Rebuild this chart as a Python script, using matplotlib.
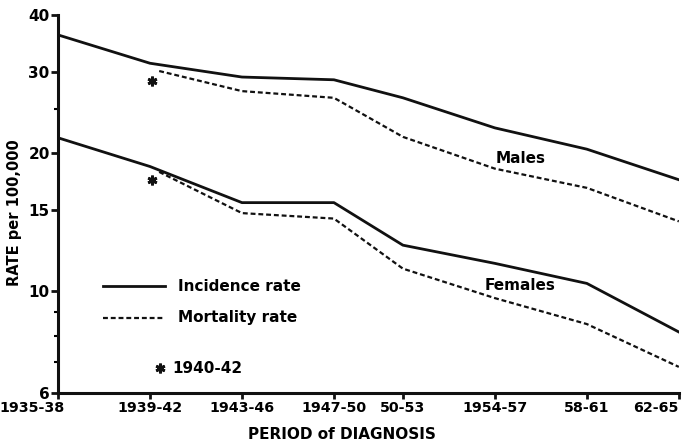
import matplotlib.pyplot as plt
import matplotlib.transforms as mtransforms
from matplotlib.ticker import FixedLocator, NullFormatter

# periodos de diagnostico (x = primer año del periodo)
periodos = ['1935-38', '1939-42', '1943-46', '1947-50', '50-53', '1954-57', '58-61', '62-65']
anios = [1935, 1939, 1943, 1947, 1950, 1954, 1958, 1962]

# tasas por 100.000
hombres_incidencia = [36.2, 31.4, 29.3, 28.9, 26.4, 22.7, 20.4, 17.5]
mujeres_incidencia = [21.6, 18.7, 15.6, 15.6, 12.6, 11.5, 10.4, 8.15]

anios_mort = [1939.4, 1943, 1947, 1950, 1954, 1958, 1962]
hombres_mortalidad = [30.2, 27.3, 26.4, 21.7, 18.5, 16.8, 14.2]
mujeres_mortalidad = [18.2, 14.8, 14.4, 11.2, 9.66, 8.48, 6.84]

# mortalidad 1940-42 (asterisco)
estrella_x = [1939.1, 1939.1]
estrella_y = [28.7, 17.5]

plt.rcParams['font.family'] = 'DejaVu Sans'
plt.rcParams['font.weight'] = 'bold'

fig = plt.figure(figsize=(6.85, 4.47), dpi=100)
ax = fig.add_axes([0.0847, 0.1208, 0.9063, 0.8456])

negro = '#111111'
ax.plot(anios, hombres_incidencia, color=negro, lw=2.0, solid_joinstyle='round')
ax.plot(anios, mujeres_incidencia, color=negro, lw=2.0, solid_joinstyle='round')
ax.plot(anios_mort, hombres_mortalidad, color=negro, lw=1.6, linestyle=(0, (2.2, 1.3)))
ax.plot(anios_mort, mujeres_mortalidad, color=negro, lw=1.6, linestyle=(0, (2.2, 1.3)))
ax.plot(estrella_x, estrella_y, linestyle='none', marker=(6, 2, 0), markersize=7,
        markeredgewidth=2, color=negro)

ax.set_yscale('log')
ax.set_ylim(6, 40)
ax.set_xlim(1935, 1962)
ax.yaxis.set_major_locator(FixedLocator([6, 10, 15, 20, 30, 40]))
ax.yaxis.set_minor_locator(FixedLocator([7, 8, 9, 25]))
ax.yaxis.set_minor_formatter(NullFormatter())
ax.set_yticklabels(['6', '10', '15', '20', '30', '40'])
ax.set_xticks(anios)
ax.set_xticklabels(periodos)

ax.tick_params(axis='both', labelsize=11, width=2, color=negro)
ax.tick_params(axis='x', labelsize=10.3)
ax.tick_params(axis='y', which='major', length=5, pad=1)
ax.tick_params(axis='y', which='minor', length=3, width=1.5)
ax.tick_params(axis='x', length=4, pad=2)

etiquetas = ax.get_xticklabels()
etiquetas[-1].set_ha('right')
etiquetas[0].set_ha('right')
desplazar = mtransforms.ScaledTranslation(7 / 100, 0, fig.dpi_scale_trans)
etiquetas[0].set_transform(etiquetas[0].get_transform() + desplazar)

for s in ['top', 'right']:
    ax.spines[s].set_visible(False)
for s in ['left', 'bottom']:
    ax.spines[s].set_linewidth(2.2)
    ax.spines[s].set_color(negro)

ax.set_xlabel('PERIOD of DIAGNOSIS', fontsize=11, fontweight='bold', labelpad=0)
ax.xaxis.set_label_coords(0.458, -0.09)
ax.set_ylabel('RATE per 100,000', fontsize=10.5, fontweight='bold')
ax.yaxis.set_label_coords(-0.058, 0.478)

ax.text(1955.1, 19.5, 'Males', fontsize=11, ha='center', va='center', fontweight='bold')
ax.text(1955.1, 10.3, 'Females', fontsize=11, ha='center', va='center', fontweight='bold')

# leyenda dibujada a mano
ax.plot([0.072, 0.172], [0.283, 0.283], transform=ax.transAxes, color=negro, lw=2.0)
ax.plot([0.072, 0.172], [0.199, 0.199], transform=ax.transAxes, color=negro, lw=1.6,
        linestyle=(0, (2.2, 1.3)))
ax.plot([0.164], [0.066], transform=ax.transAxes, marker=(6, 2, 0), markersize=7,
        markeredgewidth=2, color=negro)
ax.text(0.193, 0.283, 'Incidence rate', transform=ax.transAxes, fontsize=11, va='center')
ax.text(0.193, 0.199, 'Mortality rate', transform=ax.transAxes, fontsize=11, va='center')
ax.text(0.184, 0.066, '1940-42', transform=ax.transAxes, fontsize=11, va='center')

fig.savefig('out.png', dpi=100)
